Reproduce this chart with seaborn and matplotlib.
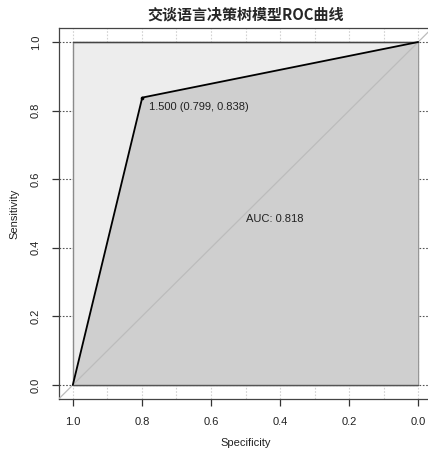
import numpy as np
import pandas as pd
import matplotlib
matplotlib.use("Agg")
import matplotlib.pyplot as plt
import seaborn as sns

# ROC curve points (specificity, sensitivity)
specificity = [1.0, 0.799, 0.0]
sensitivity = [0.0, 0.838, 1.0]
best_threshold = 1.500
best_spec = 0.799
best_sens = 0.838
auc_value = 0.818
x_ticks = [1.0, 0.8, 0.6, 0.4, 0.2, 0.0]
y_ticks = [0.0, 0.2, 0.4, 0.6, 0.8, 1.0]
title = "交谈语言决策树模型ROC曲线"

sns.set_style("white")
plt.rcParams["font.family"] = ["Liberation Sans", "Noto Sans CJK SC", "DejaVu Sans"]

roc = pd.DataFrame({"Specificity": specificity, "Sensitivity": sensitivity})

fig = plt.figure(figsize=(4.28, 4.54), dpi=100)
ax = fig.add_axes([59 / 428, 1 - 398.7 / 454, 373 / 428, 370.4 / 454])

ax.set_xlim(1.04, -0.04)
ax.set_ylim(-0.04, 1.04)

# grid: fine vertical lines, coarser horizontal lines
for gx in np.arange(0, 1.01, 0.1):
    ax.axvline(gx, color="#d2d2d2", lw=0.8, ls=(0, (1.5, 1.5)), zorder=0)
for gy in y_ticks:
    ax.axhline(gy, color="#555555", lw=0.8, ls=(0, (1.5, 1.5)), zorder=0)

# maximal AUC rectangle and AUC polygon
ax.fill([1, 0, 0, 1], [0, 0, 1, 1], facecolor="#ededed", edgecolor="#8a8a8a",
        lw=1.0, zorder=1)
ax.fill(specificity + [0.0, 1.0], sensitivity + [0.0, 0.0], facecolor="#cfcfcf",
        edgecolor="none", zorder=2)
ax.plot([1, 0], [0, 0], color="#555555", lw=1.0, zorder=2.5)
ax.plot([1, 0], [1, 1], color="#444444", lw=1.0, zorder=2.5)

# chance diagonal
ax.plot([1.04, -0.04], [-0.04, 1.04], color="#bcbcbc", lw=0.9, zorder=3)

sns.lineplot(data=roc, x="Specificity", y="Sensitivity", color="black", lw=1.3,
             sort=False, estimator=None, ax=ax, zorder=4)
sns.scatterplot(x=[best_spec], y=[best_sens], color="black", s=7, ax=ax,
                zorder=5, edgecolor="black", linewidth=0)

ax.annotate(f"{best_threshold:.3f} ({best_spec:.3f}, {best_sens:.3f})",
            xy=(best_spec, best_sens), xytext=(5, -3), textcoords="offset points",
            ha="left", va="top", fontsize=8, color="#222222", zorder=6)
ax.text(0.5, 0.5, f"AUC: {auc_value:.3f}", ha="left", va="top", fontsize=8,
        color="#222222", zorder=6)

ax.set_xticks(x_ticks)
ax.set_xticklabels([f"{v:.1f}" for v in x_ticks])
ax.set_yticks(y_ticks)
ax.set_yticklabels([f"{v:.1f}" for v in y_ticks], rotation=90, va="center")
ax.tick_params(axis="both", direction="out", length=5, width=0.9, colors="#333333",
               labelsize=8, labelcolor="#222222", pad=8, left=True, bottom=True)
ax.set_xlabel("Specificity", fontsize=8, color="#222222", labelpad=8)
ax.set_ylabel("Sensitivity", fontsize=8, color="#222222", labelpad=8)

for side in ["left", "right", "top", "bottom"]:
    ax.spines[side].set_visible(True)
    ax.spines[side].set_color("#444444")
    ax.spines[side].set_linewidth(0.9)

ax.set_title(title, fontsize=10.8, fontweight="bold", pad=6,
             family=["Noto Sans CJK SC", "DejaVu Sans"])

fig.savefig("out.png", dpi=100)
